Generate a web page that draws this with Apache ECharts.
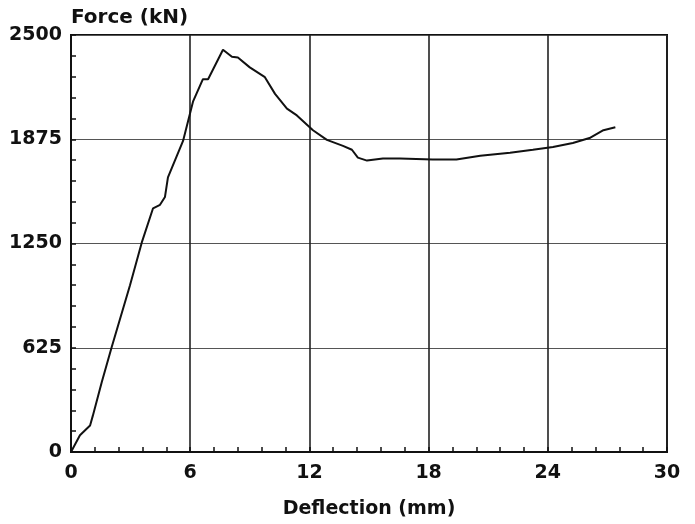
<!DOCTYPE html>
<html>
<head>
<meta charset="utf-8">
<script src="https://cdn.jsdelivr.net/npm/echarts@6/dist/echarts.min.js"></script>
<style>
  html, body { margin: 0; padding: 0; background: #fff; }
  #chart { width: 695px; height: 524px; }
</style>
</head>
<body>
<div id="chart"></div>
<script>
// deflection (mm) and force (kN)
const deflection = [0, 0.45, 0.96, 1.1, 1.55, 2.05, 2.97, 3.56, 4.13, 4.48, 4.73, 4.88, 5.64, 6.14, 6.64, 6.9, 7.65, 8.1, 8.4, 9.0, 9.76, 10.27, 10.87, 11.37, 12.18, 12.88, 13.69, 14.14, 14.44, 14.9, 15.7, 16.56, 18.2, 19.4, 20.6, 22.1, 23.25, 24.26, 25.26, 26.1, 26.8, 27.4]
const force = [0, 100, 159, 218, 420, 629, 1000, 1255, 1461, 1482, 1529, 1647, 1865, 2100, 2235, 2235, 2412, 2370, 2365, 2306, 2247, 2147, 2059, 2018, 1929, 1871, 1835, 1812, 1765, 1747, 1759, 1759, 1753, 1753, 1776, 1794, 1812, 1829, 1853, 1882, 1929, 1947]
const xTicks = [0, 6, 12, 18, 24, 30]
const yTicks = [0, 625, 1250, 1875, 2500]

let myChart = echarts.init(document.getElementById('chart'))
let font = '"DejaVu Sans", sans-serif'
let option = {
  animation: false,
  grid: { left: 71, right: 28, top: 35, bottom: 64, show: true, borderColor: '#111', borderWidth: 2 },
  xAxis: {
    type: 'value',
    min: xTicks[0],
    max: xTicks[xTicks.length - 1],
    interval: 6,
    name: 'Deflection (mm)',
    nameLocation: 'middle',
    nameGap: 48,
    nameTextStyle: { color: '#111', fontSize: 19, fontWeight: 'bold', fontFamily: font },
    axisLine: { lineStyle: { color: '#111', width: 2 } },
    axisTick: { show: true, inside: true, length: 5, lineStyle: { color: '#111', width: 1.5 } },
    minorTick: { show: true, splitNumber: 5, length: 5, lineStyle: { color: '#111', width: 1.5 } },
    axisLabel: { color: '#111', fontSize: 19, fontWeight: 'bold', fontFamily: font, margin: 12 },
    splitLine: { show: true, lineStyle: { color: '#222', width: 1.6 } }
  },
  yAxis: {
    type: 'value',
    min: yTicks[0],
    max: yTicks[yTicks.length - 1],
    interval: 625,
    name: 'Force (kN)',
    nameLocation: 'end',
    nameGap: 17,
    nameTextStyle: { color: '#111', fontSize: 20, fontWeight: 'bold', fontFamily: font, align: 'left', verticalAlign: 'middle' },
    axisLine: { show: true, lineStyle: { color: '#111', width: 2 } },
    axisTick: { show: true, inside: true, length: 5, lineStyle: { color: '#111', width: 1.5 } },
    minorTick: { show: true, splitNumber: 5, length: 5, lineStyle: { color: '#111', width: 1.5 } },
    axisLabel: { color: '#111', fontSize: 19, fontWeight: 'bold', fontFamily: font, margin: 9, formatter: v => String(v) },
    splitLine: { show: true, lineStyle: { color: '#555', width: 1.2 } }
  },
  series: [
    {
      type: 'line',
      data: deflection.map((d, i) => [d, force[i]]),
      showSymbol: false,
      lineStyle: { color: '#111', width: 2 }
    }
  ]
}
myChart.setOption(option, true)
</script>
</body>
</html>
